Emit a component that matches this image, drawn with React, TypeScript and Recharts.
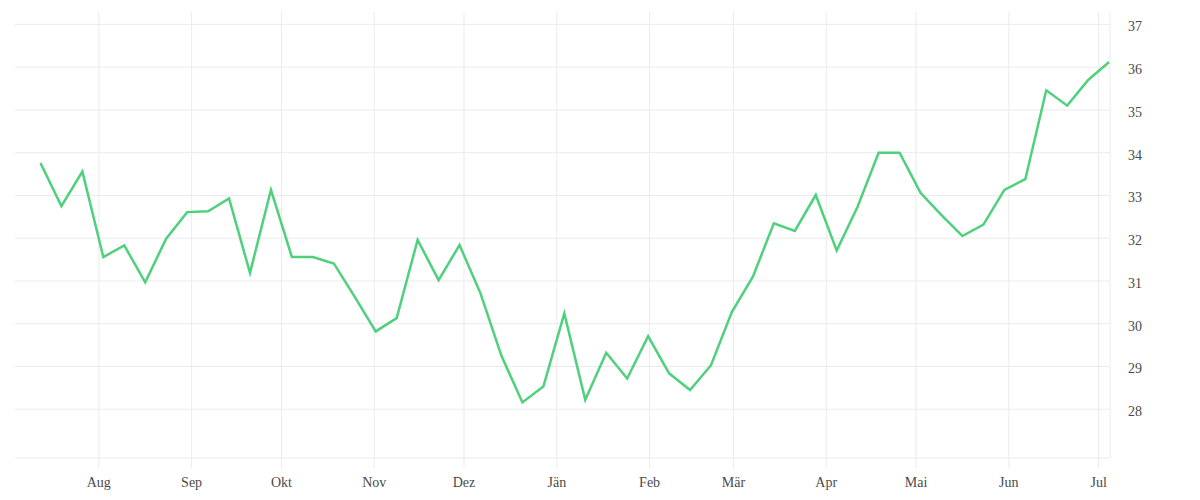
import React from 'react';
import { LineChart, Line, XAxis, YAxis, CartesianGrid } from 'recharts';

const dates: string[] = [
  '2022-07-12', '2022-07-19', '2022-07-26', '2022-08-02', '2022-08-09', '2022-08-16', '2022-08-23', '2022-08-30',
  '2022-09-06', '2022-09-13', '2022-09-20', '2022-09-27', '2022-10-04', '2022-10-11', '2022-10-18', '2022-10-25',
  '2022-11-01', '2022-11-08', '2022-11-15', '2022-11-22', '2022-11-29', '2022-12-06', '2022-12-13', '2022-12-20',
  '2022-12-27', '2023-01-03', '2023-01-10', '2023-01-17', '2023-01-24', '2023-01-31', '2023-02-07', '2023-02-14',
  '2023-02-21', '2023-02-28', '2023-03-07', '2023-03-14', '2023-03-21', '2023-03-28', '2023-04-04', '2023-04-11',
  '2023-04-18', '2023-04-25', '2023-05-02', '2023-05-09', '2023-05-16', '2023-05-23', '2023-05-30', '2023-06-06',
  '2023-06-13', '2023-06-20', '2023-06-27', '2023-07-04',
];

const values: number[] = [
  33.76, 32.75, 33.56, 31.56, 31.83, 30.97, 31.99, 32.61, 32.63, 32.93,
  31.19, 33.13, 31.56, 31.56, 31.41, 30.63, 29.82, 30.13, 31.96, 31.02,
  31.84, 30.71, 29.25, 28.16, 28.53, 30.24, 28.22, 29.32, 28.72, 29.71,
  28.84, 28.45, 29.03, 30.28, 31.10, 32.35, 32.17, 33.01, 31.71, 32.74,
  34.00, 34.00, 33.06, 32.54, 32.05, 32.32, 33.13, 33.38, 35.46, 35.10,
  35.70, 36.12,
];

const monthTickDates: string[] = [
  '2022-08-01', '2022-09-01', '2022-10-01', '2022-11-01', '2022-12-01', '2023-01-01',
  '2023-02-01', '2023-03-01', '2023-04-01', '2023-05-01', '2023-06-01', '2023-07-01',
];
const monthLabels: string[] = ['Aug', 'Sep', 'Okt', 'Nov', 'Dez', 'Jän', 'Feb', 'Mär', 'Apr', 'Mai', 'Jun', 'Jul'];

const yTicks: number[] = [28, 29, 30, 31, 32, 33, 34, 35, 36, 37];

const parse = (s: string, hour = 0) => {
  const [y, m, d] = s.split('-').map(Number);
  return Date.UTC(y, m - 1, d, hour);
};

const data = dates.map((d, i) => ({ t: parse(d, 12), v: values[i] }));
const monthTicks = monthTickDates.map((d) => parse(d));
const labelFor = (t: number) => {
  const i = monthTicks.indexOf(t);
  return i >= 0 ? monthLabels[i] : '';
};

const xDomain: [number, number] = [Date.UTC(2022, 6, 4, 0), Date.UTC(2023, 6, 4, 19)];
const yDomain: [number, number] = [26.86, 37.29];

const GRID = '#ebebeb';
const FONT = "'Liberation Serif', serif";
const TEXT = '#4a4a4a';

const applyScale = (axis: any, vals: number[]): number[] => {
  const s = axis && axis.scale;
  if (!s) return [];
  const fn = typeof s === 'function' ? s : typeof s.map === 'function' ? (v: number) => s.map(v) : null;
  if (!fn) return [];
  return vals.map((v) => fn(v) as number);
};

export default function App() {
  return (
    <div style={{ position: 'absolute', left: 0, top: 0, background: '#fff' }}>
      <LineChart width={1200} height={500} data={data} margin={{ top: 12, right: 0, bottom: 0, left: 15 }}>
        <CartesianGrid
          stroke={GRID}
          strokeWidth={1}
          horizontalCoordinatesGenerator={({ yAxis }: any) => applyScale(yAxis, yTicks)}
          verticalCoordinatesGenerator={({ xAxis }: any) => applyScale(xAxis, monthTicks)}
        />
        <XAxis
          dataKey="t"
          type="number"
          scale="time"
          domain={xDomain}
          ticks={monthTicks}
          tickFormatter={labelFor}
          height={42}
          axisLine={{ stroke: GRID }}
          tickLine={{ stroke: GRID }}
          tickSize={10}
          tickMargin={9}
          tick={{ fill: TEXT, fontSize: 14, fontFamily: FONT }}
          allowDataOverflow
        />
        <YAxis
          orientation="right"
          type="number"
          domain={yDomain}
          ticks={yTicks}
          width={90}
          axisLine={{ stroke: GRID }}
          tickLine={false}
          tickSize={6}
          tickMargin={12}
          tick={{ fill: TEXT, fontSize: 14, fontFamily: FONT, dy: 2 }}
          allowDataOverflow
        />
        <Line
          type="linear"
          dataKey="v"
          stroke="#4fd07c"
          strokeWidth={2.5}
          dot={false}
          activeDot={false}
          isAnimationActive={false}
        />
      </LineChart>
    </div>
  );
}
